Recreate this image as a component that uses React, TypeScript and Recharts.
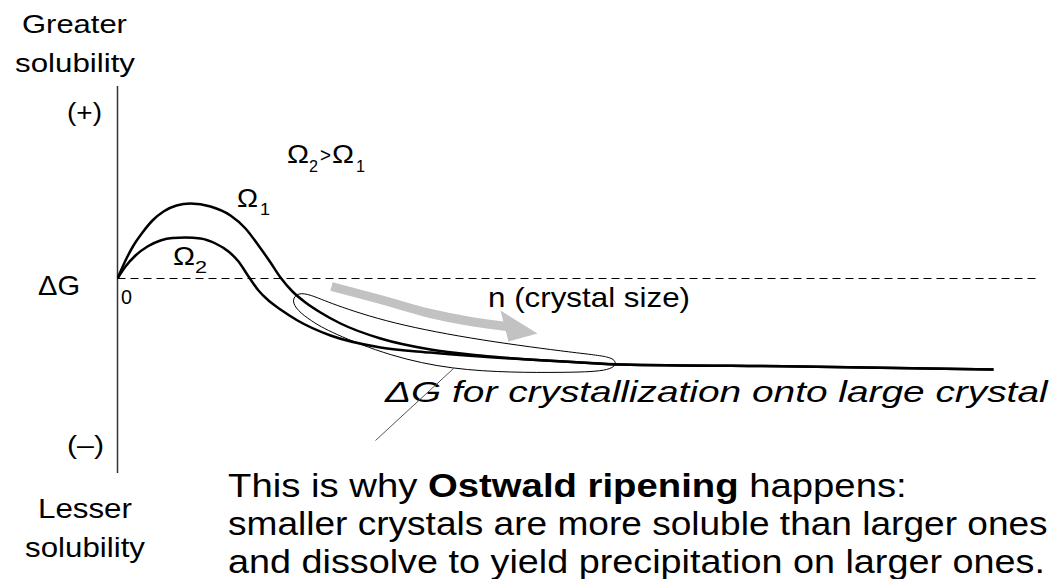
import React from "react";
import {
  ComposedChart,
  Line,
  Scatter,
  XAxis,
  YAxis,
  ReferenceLine,
  Customized,
} from "recharts";

// x = crystal size n (arbitrary units), y = ΔG (arbitrary units, + up)
const omega1 = [
  { x: 0, y: 0 },
  { x: 8, y: 18 },
  { x: 16, y: 33 },
  { x: 25, y: 46 },
  { x: 35, y: 58 },
  { x: 46, y: 67 },
  { x: 59, y: 73 },
  { x: 73, y: 75 },
  { x: 93, y: 72 },
  { x: 113, y: 63 },
  { x: 128, y: 50 },
  { x: 141, y: 33 },
  { x: 153, y: 16 },
  { x: 163, y: 1 },
  { x: 175, y: -13 },
  { x: 188, y: -24 },
  { x: 203, y: -34 },
  { x: 223, y: -45 },
  { x: 263, y: -60 },
  { x: 313, y: -71 },
  { x: 363, y: -77 },
  { x: 463, y: -84 },
  { x: 503, y: -86 },
  { x: 683, y: -88 },
  { x: 876, y: -91 },
];

const omega2 = [
  { x: 0, y: 0 },
  { x: 8, y: 12 },
  { x: 18, y: 23 },
  { x: 30, y: 32 },
  { x: 43, y: 38 },
  { x: 55, y: 40.5 },
  { x: 68, y: 41 },
  { x: 83, y: 40 },
  { x: 98, y: 35 },
  { x: 111, y: 27 },
  { x: 121, y: 17 },
  { x: 131, y: 2 },
  { x: 141, y: -12 },
  { x: 151, y: -22 },
  { x: 163, y: -31 },
  { x: 180, y: -42 },
  { x: 213, y: -57 },
  { x: 263, y: -69 },
  { x: 313, y: -74 },
  { x: 363, y: -78 },
  { x: 463, y: -84 },
  { x: 503, y: -86 },
  { x: 683, y: -88 },
  { x: 876, y: -91 },
];

// grey "growth" arrow along n
const arrowBody = [
  { x: 214, y: -8 },
  { x: 263, y: -21 },
  { x: 313, y: -35 },
  { x: 353, y: -43 },
  { x: 389, y: -48 },
];
const arrowTip = [{ x: 420, y: -55 }];

// loop around the converging tails
const loop = [
  { x: 180, y: -14 },
  { x: 193, y: -16 },
  { x: 213, y: -25 },
  { x: 273, y: -45 },
  { x: 363, y: -62 },
  { x: 463, y: -75 },
  { x: 493, y: -78 },
  { x: 500, y: -84 },
  { x: 493, y: -93 },
  { x: 443, y: -94 },
  { x: 396, y: -94 },
  { x: 335, y: -91 },
  { x: 273, y: -78 },
  { x: 213, y: -54 },
  { x: 193, y: -42 },
  { x: 180, y: -32 },
  { x: 174, y: -22 },
];

const leader = [
  { x: 336, y: -90 },
  { x: 258, y: -162 },
];

const FONT = "Liberation Sans";

let ctx: CanvasRenderingContext2D | null = null;
function measure(text: string, size: number, weight = "normal", style = "normal") {
  if (!ctx) ctx = document.createElement("canvas").getContext("2d");
  if (!ctx) return text.length * size * 0.5;
  ctx.font = `${style} ${weight} ${size}px "${FONT}"`;
  return ctx.measureText(text).width;
}

type Seg = { t: string; bold?: boolean };

// text stretched horizontally to a target width (the source figure is stretched)
function T({ x, y, size, w, segs, italic }: { x: number; y: number; size: number; w: number; segs: Seg[]; italic?: boolean }) {
  const style = italic ? "italic" : "normal";
  const natural = segs.reduce((s, g) => s + measure(g.t, size, g.bold ? "bold" : "normal", style), 0);
  const sx = w / natural;
  return (
    <text
      x={0}
      y={0}
      transform={`translate(${x},${y}) scale(${sx},1)`}
      fontFamily={`'${FONT}', Arial, sans-serif`}
      fontSize={size}
      fontStyle={style}
      fill="#000"
      style={{ whiteSpace: "pre" }}
    >
      {segs.map((g, i) => (
        <tspan key={i} fontWeight={g.bold ? "bold" : "normal"}>
          {g.t}
        </tspan>
      ))}
    </text>
  );
}

const s = (t: string): Seg[] => [{ t }];

function Annotations() {
  return (
    <g>
      <T x={22} y={33} size={25} w={105} segs={s("Greater")} />
      <T x={15} y={72} size={25} w={120} segs={s("solubility")} />
      <T x={67} y={121} size={26} w={35} segs={s("(+)")} />
      <T x={38} y={295} size={27} w={42} segs={s("ΔG")} />
      <T x={121} y={304} size={21} w={11} segs={s("0")} />
      <T x={67} y={454} size={26} w={37} segs={s("(–)")} />
      <T x={38} y={518} size={27} w={94} segs={s("Lesser")} />
      <T x={25} y={557} size={27} w={120} segs={s("solubility")} />

      <T x={287} y={163} size={25} w={22} segs={s("Ω")} />
      <T x={309} y={172} size={17} w={9} segs={s("2")} />
      <T x={320} y={162} size={21} w={11} segs={s(">")} />
      <T x={332} y={163} size={25} w={22} segs={s("Ω")} />
      <T x={356} y={172} size={17} w={9} segs={s("1")} />

      <T x={237} y={207} size={25} w={21} segs={s("Ω")} />
      <T x={260} y={215} size={17} w={10} segs={s("1")} />
      <T x={173} y={265} size={25} w={22} segs={s("Ω")} />
      <T x={195} y={273} size={17} w={12} segs={s("2")} />

      <T x={488} y={307} size={27} w={202} segs={s("n (crystal size)")} />
      <T x={385} y={402} size={30} w={663} italic segs={s("ΔG for crystallization onto large crystal")} />

      <T
        x={228}
        y={497}
        size={33}
        w={679}
        segs={[{ t: "This is why " }, { t: "Ostwald ripening", bold: true }, { t: " happens:" }]}
      />
      <T x={228} y={535} size={33} w={820} segs={s("smaller crystals are more soluble than larger ones")} />
      <T x={228} y={573} size={33} w={817} segs={s("and dissolve to yield precipitation on larger ones.")} />
    </g>
  );
}

const ArrowHead = (p: any) => {
  const { cx, cy } = p;
  return (
    <polygon
      points={`${cx},${cy} ${cx - 37},${cy - 23} ${cx - 29},${cy + 8}`}
      fill="#c2c2c2"
    />
  );
};

export default function App() {
  return (
    <div style={{ position: "absolute", left: 0, top: 0, background: "#fff" }}>
      <ComposedChart
        width={1055}
        height={579}
        margin={{ top: 86, right: 15, bottom: 106, left: 117 }}
      >
        <XAxis type="number" dataKey="x" domain={[-0.5, 922.5]} hide allowDataOverflow />
        <YAxis type="number" dataKey="y" domain={[-194.5, 192.5]} hide allowDataOverflow />

        <ReferenceLine x={0} stroke="#333" strokeWidth={1.5} />
        <ReferenceLine
          segment={[
            { x: 0, y: 0 },
            { x: 922, y: 0 },
          ]}
          ifOverflow="visible"
          stroke="#000"
          strokeWidth={1}
          strokeDasharray="8 5"
        />
        <ReferenceLine
          segment={[leader[0], leader[1]]}
          stroke="#555"
          strokeWidth={1}
        />

        <Line
          data={arrowBody}
          dataKey="y"
          type="monotone"
          stroke="#c2c2c2"
          strokeWidth={9}
          strokeLinecap="butt"
          dot={false}
          activeDot={false}
          isAnimationActive={false}
        />
        <Scatter
          data={arrowTip}
          dataKey="y"
          shape={ArrowHead}
          isAnimationActive={false}
        />

        <Line
          data={loop}
          dataKey="y"
          type="basisClosed"
          stroke="#000"
          strokeWidth={1}
          dot={false}
          activeDot={false}
          isAnimationActive={false}
        />
        <Line
          data={omega1}
          dataKey="y"
          type="monotone"
          stroke="#000"
          strokeWidth={2.5}
          dot={false}
          activeDot={false}
          isAnimationActive={false}
        />
        <Line
          data={omega2}
          dataKey="y"
          type="monotone"
          stroke="#000"
          strokeWidth={2.5}
          dot={false}
          activeDot={false}
          isAnimationActive={false}
        />

        <Customized component={Annotations} />
      </ComposedChart>
    </div>
  );
}
